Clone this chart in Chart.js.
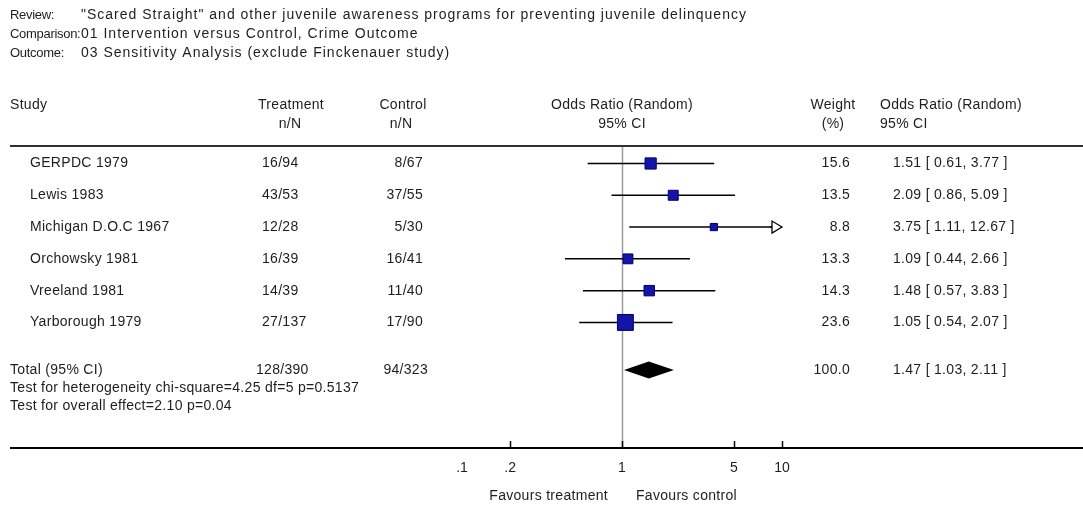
<!DOCTYPE html>
<html>
<head>
<meta charset="utf-8">
<script src="https://cdn.jsdelivr.net/npm/chart.js@4.4.1/dist/chart.umd.min.js"></script>
<style>
html,body{margin:0;padding:0;background:#fff;}
#wrap{width:1083px;height:510px;position:relative;}
canvas{display:block;}
</style>
</head>
<body>
<div id="wrap"><canvas id="c" width="1083" height="510"></canvas></div>
<script>
// ---------------- data ----------------
const titleLabels = ['Review:', 'Comparison:', 'Outcome:'];
const titleValues = [
  '"Scared Straight" and other juvenile awareness programs for preventing juvenile delinquency',
  '01 Intervention versus Control, Crime Outcome',
  '03 Sensitivity Analysis (exclude Finckenauer study)'
];
const studyNames = ['GERPDC 1979', 'Lewis 1983', 'Michigan D.O.C 1967', 'Orchowsky 1981', 'Vreeland 1981', 'Yarborough 1979'];
const treatmentNN = ['16/94', '43/53', '12/28', '16/39', '14/39', '27/137'];
const controlNN = ['8/67', '37/55', '5/30', '16/41', '11/40', '17/90'];
const weights = [15.6, 13.5, 8.8, 13.3, 14.3, 23.6];
const oddsRatios = [1.51, 2.09, 3.75, 1.09, 1.48, 1.05];
const ciLower = [0.61, 0.86, 1.11, 0.44, 0.57, 0.54];
const ciUpper = [3.77, 5.09, 12.67, 2.66, 3.83, 2.07];
const totalLabel = 'Total (95% CI)';
const totalTreatment = '128/390';
const totalControl = '94/323';
const totalWeight = 100.0;
const totalOR = 1.47;
const totalLower = 1.03;
const totalUpper = 2.11;
const footNotes = ['Test for heterogeneity chi-square=4.25 df=5 p=0.5137', 'Test for overall effect=2.10 p=0.04'];
const tickValues = [0.1, 0.2, 1, 5, 10];
const tickLabels = ['.1', '.2', '1', '5', '10'];
const favoursLabels = ['Favours treatment', 'Favours control'];

// ---------------- layout / style ----------------
const TOTAL_ROW = 6.5;
const FAMILY = '"Liberation Sans", Arial, sans-serif';
const FONT = '14px ' + FAMILY;
const TEXT = '#1e1e1e';
const fmt2 = v => v.toFixed(2);
const orText = (o, l, u) => fmt2(o) + ' [ ' + fmt2(l) + ', ' + fmt2(u) + ' ]';
const squareSide = w => 2 + 0.59 * w;

const lineSets = studyNames.map((name, i) => ({
  type: 'line',
  label: name,
  data: [{x: ciLower[i], y: i}, {x: ciUpper[i], y: i}],
  borderColor: '#000',
  borderWidth: 1.5,
  pointRadius: 0,
  order: 2
}));

const squareSet = {
  type: 'scatter',
  label: 'OR',
  data: oddsRatios.map((v, i) => ({x: v, y: i})),
  pointStyle: 'rect',
  pointRadius: ctx => squareSide(weights[ctx.dataIndex]) / Math.SQRT2,
  pointHoverRadius: ctx => squareSide(weights[ctx.dataIndex]) / Math.SQRT2,
  backgroundColor: '#1414a8',
  borderColor: '#00006a',
  borderWidth: 1,
  order: 0
};

const forestPlugin = {
  id: 'forest',
  beforeDatasetsDraw(chart) {
    const {ctx, chartArea: a, scales: {x}} = chart;
    const px = Math.round(x.getPixelForValue(1)) + 0.5;
    ctx.save();
    ctx.strokeStyle = '#9c9c9c';
    ctx.lineWidth = 1.5;
    ctx.beginPath();
    ctx.moveTo(px, a.top);
    ctx.lineTo(px, a.bottom);
    ctx.stroke();
    ctx.restore();
  },
  afterDatasetsDraw(chart) {
    const {ctx, scales: {x, y}} = chart;
    ctx.save();
    ciUpper.forEach((u, i) => {
      if (u > x.max) {
        const tip = x.getPixelForValue(x.max);
        const yy = y.getPixelForValue(i);
        ctx.fillStyle = '#fff';
        ctx.strokeStyle = '#000';
        ctx.lineWidth = 1.3;
        ctx.beginPath();
        ctx.moveTo(tip, yy);
        ctx.lineTo(tip - 10, yy - 6);
        ctx.lineTo(tip - 10, yy + 6);
        ctx.closePath();
        ctx.fill();
        ctx.stroke();
        ctx.beginPath();
        ctx.moveTo(tip - 12, yy);
        ctx.lineTo(tip - 10, yy);
        ctx.stroke();
      }
    });
    const yy = y.getPixelForValue(TOTAL_ROW);
    const xl = x.getPixelForValue(totalLower);
    const xm = x.getPixelForValue(totalOR);
    const xr = x.getPixelForValue(totalUpper);
    ctx.fillStyle = '#000';
    ctx.beginPath();
    ctx.moveTo(xl, yy);
    ctx.lineTo(xm, yy - 8.5);
    ctx.lineTo(xr, yy);
    ctx.lineTo(xm, yy + 8.5);
    ctx.closePath();
    ctx.fill();
    ctx.restore();
  },
  afterDraw(chart) {
    const {ctx, chartArea: a, scales: {x, y}, width} = chart;
    ctx.save();
    ctx.fillStyle = TEXT;
    ctx.textBaseline = 'middle';
    ctx.textAlign = 'left';
    // title block
    const titleY = [15, 34, 53];
    titleLabels.forEach((t, i) => {
      ctx.font = '13px ' + FAMILY;
      ctx.letterSpacing = '-0.3px';
      ctx.fillText(t, 10, titleY[i]);
      ctx.font = FONT;
      ctx.letterSpacing = '1px';
      ctx.fillText(titleValues[i], 81, titleY[i]);
    });
    ctx.font = FONT;
    ctx.letterSpacing = '0.3px';
    // header
    const h1 = 105, h2 = 124;
    const xOne = x.getPixelForValue(1);
    ctx.fillText('Study', 10, h1);
    ctx.textAlign = 'center';
    ctx.fillText('Treatment', 291, h1);
    ctx.fillText('n/N', 290, h2);
    ctx.fillText('Control', 403, h1);
    ctx.fillText('n/N', 401, h2);
    ctx.fillText('Odds Ratio (Random)', xOne, h1);
    ctx.fillText('95% CI', xOne, h2);
    ctx.fillText('Weight', 833, h1);
    ctx.fillText('(%)', 833, h2);
    ctx.textAlign = 'left';
    ctx.fillText('Odds Ratio (Random)', 880, h1);
    ctx.fillText('95% CI', 880, h2);
    // rules
    ctx.strokeStyle = '#303030';
    ctx.lineWidth = 2;
    ctx.beginPath();
    ctx.moveTo(10, a.top);
    ctx.lineTo(width, a.top);
    ctx.stroke();
    ctx.strokeStyle = '#000';
    ctx.beginPath();
    ctx.moveTo(10, a.bottom);
    ctx.lineTo(width, a.bottom);
    ctx.stroke();
    ctx.lineWidth = 1.5;
    tickValues.forEach(v => {
      if (v <= x.min) return;
      const px = Math.round(x.getPixelForValue(v)) + 0.5;
      ctx.beginPath();
      ctx.moveTo(px, a.bottom);
      ctx.lineTo(px, a.bottom - 7);
      ctx.stroke();
    });
    // study rows
    studyNames.forEach((n, i) => {
      const yy = y.getPixelForValue(i);
      ctx.textAlign = 'left';
      ctx.fillText(n, 30, yy);
      ctx.fillText(treatmentNN[i], 262, yy);
      ctx.textAlign = 'right';
      ctx.fillText(controlNN[i], 423, yy);
      ctx.fillText(weights[i].toFixed(1), 850, yy);
      ctx.textAlign = 'left';
      ctx.fillText(orText(oddsRatios[i], ciLower[i], ciUpper[i]), 893, yy);
    });
    // total row
    const ty = y.getPixelForValue(TOTAL_ROW);
    ctx.fillText(totalLabel, 10, ty);
    ctx.fillText(totalTreatment, 256, ty);
    ctx.textAlign = 'right';
    ctx.fillText(totalControl, 428, ty);
    ctx.fillText(totalWeight.toFixed(1), 850, ty);
    ctx.textAlign = 'left';
    ctx.fillText(orText(totalOR, totalLower, totalUpper), 893, ty);
    footNotes.forEach((f, i) => ctx.fillText(f, 10, ty + 18 + 18 * i));
    // favours labels
    ctx.textAlign = 'right';
    ctx.fillText(favoursLabels[0], xOne - 14, 496);
    ctx.textAlign = 'left';
    ctx.fillText(favoursLabels[1], xOne + 14, 496);
    ctx.restore();
  }
};

new Chart(document.getElementById('c'), {
  data: { datasets: [squareSet, ...lineSets] },
  options: {
    responsive: false,
    animation: false,
    devicePixelRatio: 1,
    layout: { padding: { left: 462, right: 301, top: 146, bottom: 0 } },
    plugins: { legend: { display: false }, tooltip: { enabled: false }, title: { display: false } },
    scales: {
      x: {
        type: 'logarithmic',
        min: 0.1,
        max: 10,
        grid: { display: false, drawTicks: false },
        border: { display: false },
        afterBuildTicks: s => { s.ticks = tickValues.map(v => ({ value: v })); },
        afterFit: s => { s.height = 62; },
        ticks: {
          autoSkip: false,
          maxRotation: 0,
          padding: 12,
          color: TEXT,
          font: { family: FAMILY, size: 14 },
          callback: (v, i) => tickLabels[i]
        }
      },
      y: {
        type: 'linear',
        reverse: true,
        min: -0.55,
        max: 8.95,
        display: false
      }
    }
  },
  plugins: [forestPlugin]
});
</script>
</body>
</html>
